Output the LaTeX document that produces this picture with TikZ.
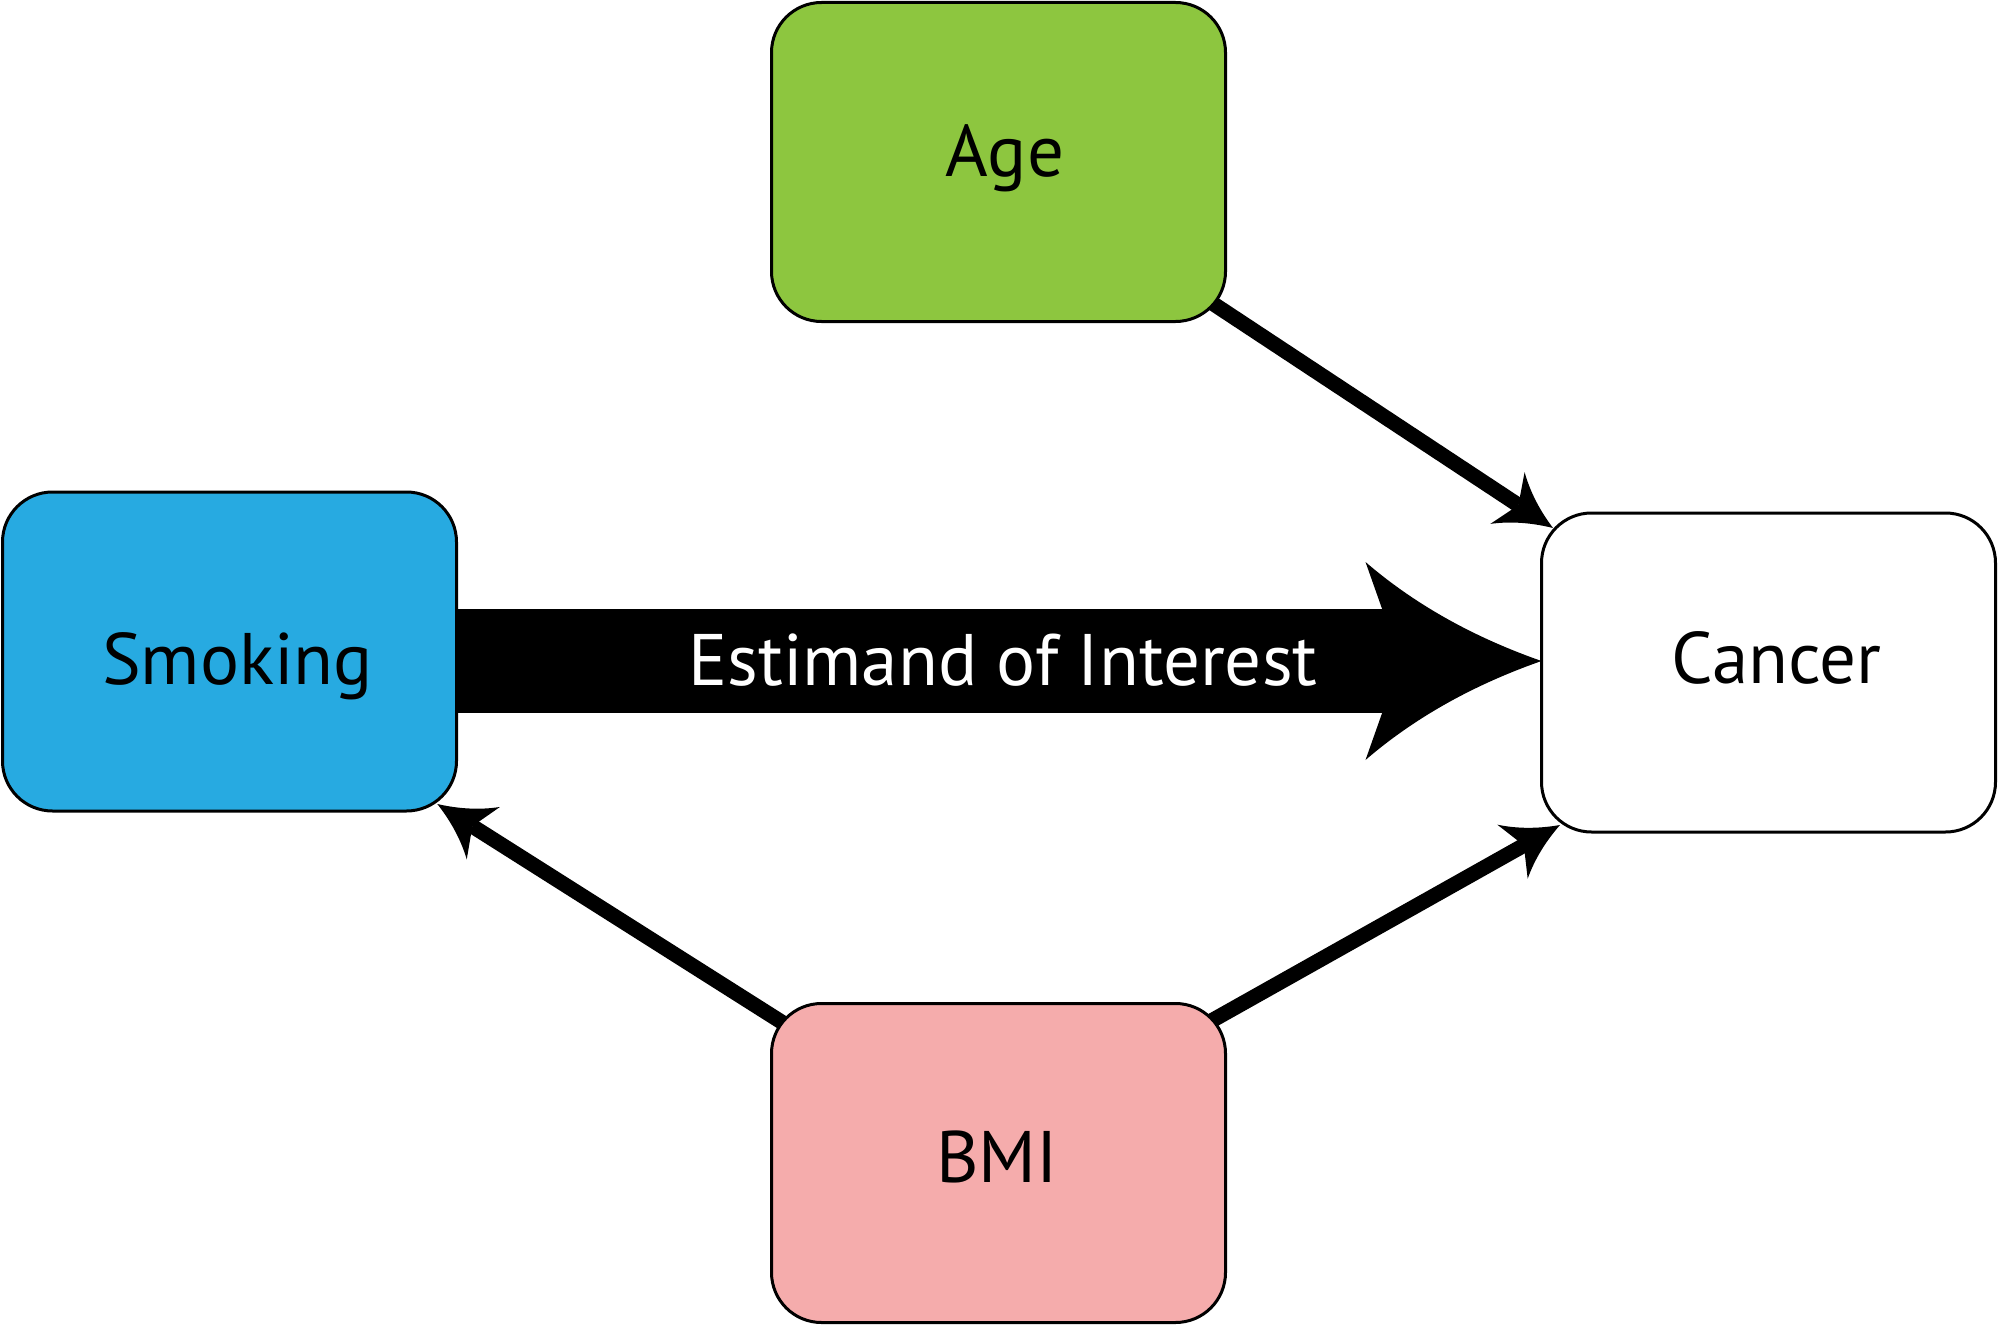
\documentclass[tikz,border=0pt]{standalone}
\usepackage{fontspec}
\setmainfont{PT Sans}
\usetikzlibrary{arrows.meta,backgrounds,calc}
\definecolor{agegreen}{HTML}{8DC63F}
\definecolor{smokeblue}{HTML}{27AAE1}
\definecolor{bmipink}{HTML}{F5ACAC}
\pgfdeclarearrow{
  name = Swoop,
  defaults = {length = 54pt, width = 62pt, inset = 13pt},
  parameters = {\the\pgfarrowlength,\the\pgfarrowwidth,\the\pgfarrowinset},
  setup code = {
    \pgfarrowssettipend{\pgfarrowlength}
    \pgfarrowssetlineend{\pgfarrowinset}
    \pgfarrowssetvisualbackend{0pt}
    \pgfarrowshullpoint{\pgfarrowlength}{0pt}
    \pgfarrowshullpoint{0pt}{.5\pgfarrowwidth}
    \pgfarrowshullpoint{0pt}{-.5\pgfarrowwidth}
    \pgfarrowssavethe\pgfarrowlength
    \pgfarrowssavethe\pgfarrowwidth
    \pgfarrowssavethe\pgfarrowinset
  },
  drawing code = {
    \pgfpathmoveto{\pgfqpoint{\pgfarrowlength}{0pt}}
    \pgfpathcurveto{\pgfqpoint{.61\pgfarrowlength}{.12135\pgfarrowwidth}}{\pgfqpoint{.2767\pgfarrowlength}{.288\pgfarrowwidth}}{\pgfqpoint{0pt}{.5\pgfarrowwidth}}
    \pgfpathlineto{\pgfqpoint{\pgfarrowinset}{0pt}}
    \pgfpathlineto{\pgfqpoint{0pt}{-.5\pgfarrowwidth}}
    \pgfpathcurveto{\pgfqpoint{.2767\pgfarrowlength}{-.288\pgfarrowwidth}}{\pgfqpoint{.61\pgfarrowlength}{-.12135\pgfarrowwidth}}{\pgfqpoint{\pgfarrowlength}{0pt}}
    \pgfpathclose
    \pgfusepathqfill
  }
}
\tikzset{
  box/.style={rectangle, rounded corners=50pt, draw=black, line width=3pt,
    minimum width=454pt, minimum height=319pt, inner sep=0pt, outer sep=0pt},
  lbl/.style={font=\fontsize{73}{80}\selectfont, inner sep=0pt, anchor=base},
  conn/.style={line width=15pt, -{Swoop[length=54.5pt,width=62pt,inset=13pt]}},
  bigconn/.style={line width=104pt, -{Swoop[length=176pt,width=198pt,inset=35pt]}}
}
\begin{document}
\begin{tikzpicture}[x=1pt,y=-1pt]
\useasboundingbox (0,0) rectangle (1998,1327);
\node[box, fill=agegreen] (age) at (998.5,162) {};
\node[box, fill=smokeblue] (smoking) at (229.5,651.5) {};
\node[box, fill=white] (cancer) at (1768.5,672.5) {};
\node[box, fill=bmipink] (bmi) at (998.5,1163) {};
\node[lbl] (agetxt) at (1005,177) {Age};
\node[lbl] (smoketxt) at (237.5,684) {Smoking};
\node[lbl] (cancertxt) at (1776.5,683.5) {Cancer};
\node[lbl] (bmitxt) at (997,1182) {BMI};
\coordinate (ey) at (0,661);
\coordinate (tipAC) at ($(cancer.center)+(-215.5,-144.5)$);
\coordinate (tipBC) at ($(cancer.center)+(-208.5,152.5)$);
\coordinate (tipBS) at ($(smoking.center)+(207.8,152.5)$);
\coordinate (srcBC) at ($(bmi.center)+(0,-22.5)$);
\coordinate (srcBS) at ($(bmi.center)+(0,-3.6)$);
\begin{scope}[on background layer]
\fill[white] (0,0) rectangle (1998,1327);
\draw[bigconn] (smoking.east |- ey) -- (cancer.west |- ey);
\draw[conn] (age.center) -- (tipAC);
\draw[conn] (srcBC) -- (tipBC);
\draw[conn] (srcBS) -- (tipBS);
\end{scope}
\node[lbl, text=white] (esttxt) at (1003,685.5) {Estimand of Interest};
\end{tikzpicture}
\end{document}
